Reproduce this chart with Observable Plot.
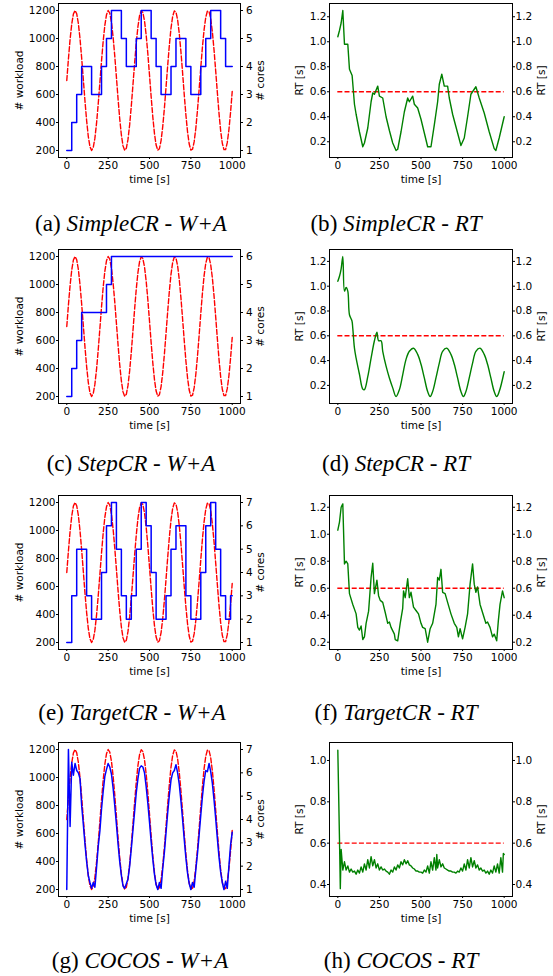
<!DOCTYPE html>
<html><head><meta charset="utf-8">
<script src="https://cdn.jsdelivr.net/npm/d3@7"></script>
<script src="https://cdn.jsdelivr.net/npm/@observablehq/plot@0.6"></script>
<style>
body{margin:0;background:#fff;}
#root{position:relative;width:553px;height:976px;overflow:hidden;background:#fff;}
.p{position:absolute;}
.cap{position:absolute;font-family:"Liberation Serif","Times New Roman",serif;font-size:20px;white-space:nowrap;transform:translateX(-50%);line-height:22px;color:#000;}
</style></head><body><div id="root"></div><script>
// ---------- data ----------
const sampleTimes = d3.range(0, 1001, 10);
const workload = [700,854,993,1103,1175,1200,1177,1108,999,861,
708,554,414,301,228,200,221,288,395,531,
684,839,980,1094,1169,1200,1181,1117,1011,876,
724,569,427,311,233,201,216,279,383,517,
669,824,967,1084,1164,1199,1185,1125,1023,891,
739,584,440,321,239,202,213,271,371,502,
653,808,953,1074,1158,1197,1189,1133,1035,905,
755,599,454,332,246,203,209,263,359,488,
637,793,940,1063,1151,1196,1192,1141,1047,919,
770,615,467,342,252,206,207,256,348,474,
622];

// SimpleCR cores (step changes)
const simpleCoreT = [0,30,60,90,150,210,240,270,330,360,420,450,510,540,570,630,660,720,750,810,840,870,930,960,1000];
const simpleCoreV = [1,2,3,4,3,4,5,6,5,4,5,6,5,4,3,4,5,4,3,4,5,6,5,4,4];
// StepCR cores
const stepCoreT = [0,30,60,90,240,270,1000];
const stepCoreV = [1,2,3,4,5,6,6];
// TargetCR cores
const targetCoreT = [0,30,60,120,150,210,240,270,300,330,360,390,420,450,480,510,540,600,630,660,720,750,810,840,870,900,930,960,990,1000];
const targetCoreV = [1,3,5,3,2,4,6,7,5,3,2,3,5,7,6,4,2,3,5,6,3,2,4,6,7,5,3,2,3,3];
// COCOS cores (sampled every 10 s)
const cocosCoreV = [1.0,7.0,3.7,6.45,5.9,6.4,6.1,6.0,5.75,4.6,
3.8,2.95,2.2,1.6,1.3,1.05,1.3,1.1,1.95,2.85,
3.5,4.45,5.2,5.85,6.15,6.4,6.25,5.95,5.35,4.6,
3.8,2.95,2.2,1.6,1.15,1.05,1.25,1.45,2.0,2.75,
3.55,4.35,5.15,5.75,6.2,6.3,6.25,6.0,5.4,4.7,
3.9,3.05,2.3,1.65,1.2,1.0,1.3,1.05,1.9,2.6,
3.45,4.3,5.05,5.7,6.0,6.1,6.35,6.0,5.5,4.8,
4.0,3.15,2.35,1.7,1.25,1.0,1.3,1.1,1.85,2.55,
3.35,4.2,5.0,5.65,6.1,6.05,6.4,6.05,5.55,4.85,
4.05,3.2,2.4,1.75,1.3,1.0,1.35,1.05,2.0,2.9,
3.45];

// response times
const simpleRtT = [0,10,20,30,40,50,60,70,86,100,110,130,150,160,180,200,210,220,240,250,270,290,310,330,350,360,380,400,420,430,450,460,480,500,520,540,560,580,600,610,625,640,660,670,690,720,740,760,780,800,820,830,850,880,910,940,950,970,1000];
const simpleRtV = [1.04,1.09,1.15,1.25,0.98,0.98,0.98,0.78,0.73,0.50,0.42,0.28,0.16,0.19,0.31,0.52,0.59,0.58,0.645,0.565,0.55,0.40,0.29,0.19,0.13,0.14,0.28,0.44,0.55,0.52,0.565,0.50,0.47,0.38,0.27,0.16,0.16,0.335,0.52,0.66,0.74,0.645,0.645,0.55,0.42,0.27,0.17,0.23,0.40,0.58,0.62,0.64,0.55,0.43,0.28,0.145,0.13,0.23,0.40];
const stepRtT = [0,10,20,30,40,50,60,70,85,90,100,110,130,150,160,180,200,220,235,245,260,270,290,310,330,350,370,390,410,430,455,480,500,520,540,555,570,590,610,630,655,680,700,720,740,755,770,790,810,830,855,880,900,920,940,955,970,1000];
const stepRtV = [1.04,1.08,1.14,1.24,0.96,0.99,0.96,0.77,0.72,0.66,0.50,0.42,0.29,0.17,0.165,0.27,0.42,0.56,0.63,0.56,0.56,0.475,0.355,0.26,0.18,0.11,0.165,0.285,0.41,0.475,0.50,0.45,0.37,0.26,0.15,0.11,0.15,0.26,0.38,0.475,0.50,0.45,0.37,0.26,0.15,0.11,0.15,0.26,0.38,0.475,0.50,0.45,0.37,0.26,0.15,0.11,0.15,0.31];
const targetRtT = [0,10,20,30,40,50,60,70,90,110,120,130,140,150,160,170,185,200,210,220,235,245,255,270,285,300,310,320,340,345,360,375,390,395,405,420,430,440,455,470,485,500,510,525,540,555,570,590,600,610,620,630,645,660,680,700,715,725,735,750,765,780,795,810,820,830,840,855,875,890,900,915,930,940,955,965,975,990,1000];
const targetRtV = [1.03,1.09,1.20,1.225,0.78,0.80,0.78,0.56,0.48,0.41,0.31,0.29,0.32,0.22,0.24,0.34,0.43,0.68,0.785,0.56,0.66,0.545,0.51,0.495,0.42,0.34,0.35,0.31,0.26,0.22,0.21,0.34,0.45,0.58,0.53,0.67,0.53,0.57,0.46,0.435,0.41,0.34,0.31,0.30,0.20,0.30,0.34,0.48,0.68,0.66,0.74,0.57,0.56,0.495,0.41,0.34,0.31,0.24,0.30,0.225,0.31,0.41,0.63,0.78,0.63,0.57,0.61,0.48,0.40,0.34,0.35,0.31,0.24,0.26,0.21,0.36,0.48,0.58,0.53];
const cocosRtT = [0,10,15,20,30,40,50,60,70,80,90,100,110,120,130,140,150,160,170,180,190,200,210,220,230,240,250,260,270,280,290,300,310,320,330,340,350,360,370,380,390,400,410,420,430,440,450,460,470,480,490,500,510,520,530,540,550,560,570,580,590,595,600,610,620,630,640,650,660,670,680,690,700,710,720,730,740,750,760,770,780,790,800,810,820,830,840,850,860,870,880,890,900,910,920,930,940,950,960,970,980,990,995,1000];
const cocosRtV = [1.05,0.62,0.38,0.57,0.47,0.51,0.47,0.49,0.46,0.475,0.46,0.465,0.45,0.47,0.455,0.485,0.46,0.50,0.47,0.52,0.48,0.535,0.49,0.52,0.48,0.50,0.47,0.485,0.47,0.475,0.465,0.46,0.45,0.47,0.46,0.485,0.47,0.495,0.48,0.51,0.495,0.52,0.50,0.515,0.495,0.49,0.48,0.475,0.465,0.465,0.46,0.46,0.455,0.47,0.46,0.49,0.455,0.51,0.47,0.53,0.47,0.545,0.48,0.52,0.485,0.50,0.48,0.475,0.47,0.465,0.465,0.46,0.46,0.455,0.465,0.46,0.48,0.465,0.50,0.47,0.52,0.48,0.53,0.485,0.515,0.48,0.495,0.47,0.48,0.465,0.47,0.455,0.465,0.45,0.47,0.455,0.49,0.46,0.50,0.455,0.53,0.46,0.55,0.545];

const rtThreshold = 0.6;
const thresholdSpan = [0, 1000];

const timeTicks = [0,250,500,750,1000];
const workloadTicks = [200,400,600,800,1000,1200];
const cores6Ticks = [1,2,3,4,5,6];
const cores7Ticks = [1,2,3,4,5,6,7];
const rtTicks = [0.2,0.4,0.6,0.8,1.0,1.2];
const rtTicksCocos = [0.4,0.6,0.8,1.0];

const captions = [
  ["(a) ","SimpleCR - W+A"],["(b) ","SimpleCR - RT"],
  ["(c) ","StepCR - W+A"],["(d) ","StepCR - RT"],
  ["(e) ","TargetCR - W+A"],["(f) ","TargetCR - RT"],
  ["(g) ","COCOS - W+A"],["(h) ","COCOS - RT"]
];

// ---------- layout ----------
const root = document.getElementById("root");
const rowFrameTop = [3, 249, 495, 742];
const captionY = [223, 463, 712, 960];
const captionX = [[131,396],[131,396],[132,396],[140,401]];
const captionRefWidth = 192; // width of caption (a) in the reference
const MT = 8, INNER = 154, MB = 44, H = MT + INNER + MB;
const LEFT = {left:0, width:276, ml:58, mr:36};
const RIGHT = {left:276, width:277, ml:53, mr:41};
const X_DOMAIN = [-50, 1050];
const RED = "#ff0000", BLUE = "#0000ff", GREEN = "#008000";
const DASH = "5,2.2";
const zipPts = (T, V) => T.map((t, i) => ({t, v: V[i]}));
const style = {fontFamily:"'DejaVu Sans', sans-serif", fontSize:"10.5px", color:"#000", background:"transparent", overflow:"visible"};

function place(svg, box, top) {
  const d = document.createElement("div");
  d.className = "p";
  d.style.left = box.left + "px";
  d.style.top = top + "px";
  d.appendChild(svg);
  root.appendChild(d);
}
function xAxis() {
  return Plot.axisX({ticks: timeTicks, tickFormat: "d", tickSize: 2, tickPadding: 2, label: "time [s]", labelAnchor: "center", labelArrow: "none", labelOffset: 25});
}

function wPanel(row, coreData, coreDomain, coreTicks, curve) {
  const top = rowFrameTop[row] - MT;
  const wData = zipPts(sampleTimes, workload);
  const base = Plot.plot({
    width: LEFT.width, height: H, marginTop: MT, marginBottom: MB, marginLeft: LEFT.ml, marginRight: LEFT.mr,
    style, x: {domain: X_DOMAIN}, y: {domain: [150, 1250]},
    marks: [
      xAxis(),
      Plot.axisY({ticks: workloadTicks, tickFormat: "d", tickSize: 2, tickPadding: 1, label: "# workload", labelAnchor: "center", labelArrow: "none", labelOffset: 43}),
      Plot.line(wData, {x: "t", y: "v", stroke: RED, strokeWidth: 1.4, strokeDasharray: DASH}),
      Plot.frame({stroke: "#000", strokeWidth: 1})
    ]
  });
  place(base, LEFT, top);
  const over = Plot.plot({
    width: LEFT.width, height: H, marginTop: MT, marginBottom: MB, marginLeft: LEFT.ml, marginRight: LEFT.mr,
    style, x: {domain: X_DOMAIN, axis: null}, y: {domain: coreDomain},
    marks: [
      Plot.axisY({anchor: "right", ticks: coreTicks, tickFormat: "d", tickSize: 2, tickPadding: 3.5, label: "# cores", labelAnchor: "center", labelArrow: "none", labelOffset: 23.5}),
      Plot.line(coreData, {x: "t", y: "v", stroke: BLUE, strokeWidth: 1.5, curve})
    ]
  });
  place(over, LEFT, top);
}

function rtPanel(row, rtData, domain, ticks, curve) {
  const top = rowFrameTop[row] - MT;
  const p = Plot.plot({
    width: RIGHT.width, height: H, marginTop: MT, marginBottom: MB, marginLeft: RIGHT.ml, marginRight: RIGHT.mr,
    style, x: {domain: X_DOMAIN}, y: {domain},
    marks: [
      xAxis(),
      Plot.axisY({ticks, tickFormat: ".1f", tickSize: 2, tickPadding: 1, label: "RT [s]", labelAnchor: "center", labelArrow: "none", labelOffset: 33.5}),
      Plot.axisY({anchor: "right", ticks, tickFormat: ".1f", tickSize: 2, tickPadding: 1, label: "RT [s]", labelAnchor: "center", labelArrow: "none", labelOffset: 32.5}),
      Plot.ruleY([rtThreshold], {x1: thresholdSpan[0], x2: thresholdSpan[1], stroke: RED, strokeWidth: 1.4, strokeDasharray: DASH}),
      Plot.line(rtData, {x: "t", y: "v", stroke: GREEN, strokeWidth: 1.4, curve}),
      Plot.frame({stroke: "#000", strokeWidth: 1})
    ]
  });
  place(p, RIGHT, top);
}

wPanel(0, zipPts(simpleCoreT, simpleCoreV), [0.75, 6.25], cores6Ticks, "step-after");
rtPanel(0, zipPts(simpleRtT, simpleRtV), [0.074, 1.306], rtTicks, "linear");
wPanel(1, zipPts(stepCoreT, stepCoreV), [0.75, 6.25], cores6Ticks, "step-after");
rtPanel(1, zipPts(stepRtT, stepRtV), [0.054, 1.296], rtTicks, "catmull-rom");
wPanel(2, zipPts(targetCoreT, targetCoreV), [0.7, 7.3], cores7Ticks, "step-after");
rtPanel(2, zipPts(targetRtT, targetRtV), [0.146, 1.287], rtTicks, "linear");
wPanel(3, zipPts(sampleTimes, cocosCoreV), [0.7, 7.3], cores7Ticks, "linear");
rtPanel(3, zipPts(cocosRtT, cocosRtV), [0.342, 1.087], rtTicksCocos, "linear");

const capDivs = captions.map(([lead, name], i) => {
  const row = Math.floor(i / 2), col = i % 2;
  const d = document.createElement("div");
  d.className = "cap";
  d.style.left = captionX[row][col] + "px";
  const a = document.createElement("span"); a.textContent = lead;
  const b = document.createElement("i"); b.textContent = name;
  d.appendChild(a); d.appendChild(b);
  root.appendChild(d);
  return [d, row];
});
// size captions so that caption (a) matches the reference width
const natural = capDivs[0][0].getBoundingClientRect().width;
const capSize = 20 * captionRefWidth / natural;
capDivs.forEach(([d, row]) => {
  d.style.fontSize = capSize + "px";
  d.style.lineHeight = "24px";
  d.style.top = (captionY[row] - 12) + "px";
});
</script></body></html>
